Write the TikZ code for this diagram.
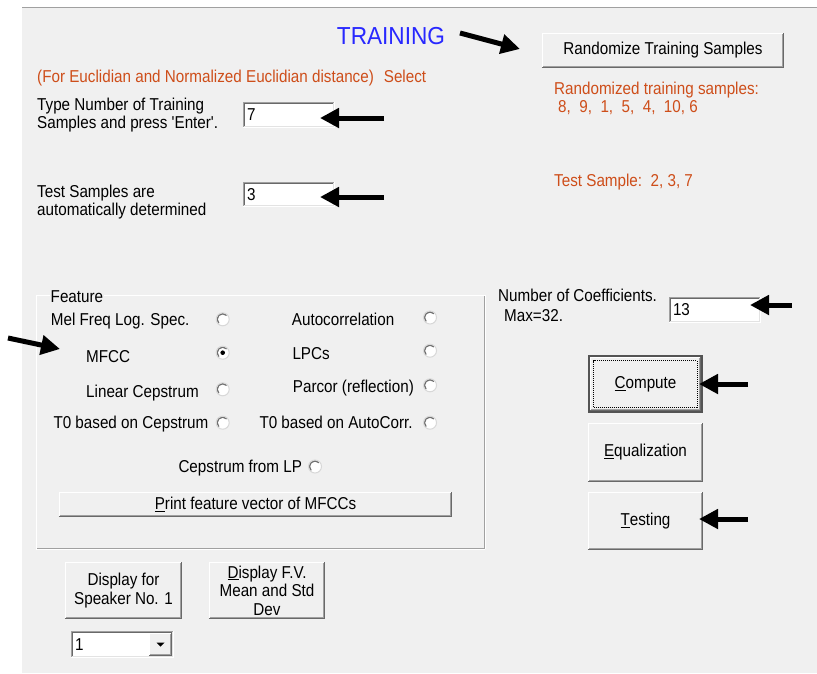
\documentclass[tikz,border=0pt]{standalone}
\usepackage{fontspec}
\newfontfamily\uifont{Liberation Sans}[FakeStretch=0.885]
\newfontfamily\titlefnt{Liberation Sans}[FakeStretch=0.92]
\usetikzlibrary{arrows.meta}
\definecolor{bgc}{HTML}{F0F0F0}
\definecolor{orng}{RGB}{206,78,26}
\definecolor{ttlblue}{RGB}{40,40,255}
\definecolor{dksh}{HTML}{696969}
\definecolor{ltsh}{HTML}{A0A0A0}
\definecolor{lite}{HTML}{E3E3E3}
\definecolor{rdk}{HTML}{707070}
\definecolor{rlt}{HTML}{D8D8D8}
\newcommand\uisz{\uifont\fontsize{17.2}{18.5}\selectfont}
\newcommand\raisedbtn[1]{%
  \draw[white,line width=1.2pt] ([shift={(0.6pt,0.6pt)}]#1.south west) |- ([shift={(-0.6pt,-0.6pt)}]#1.north east);
  \draw[dksh,line width=1pt] ([shift={(0pt,0.5pt)}]#1.south west) -| ([shift={(-0.5pt,0pt)}]#1.north east);
  \draw[ltsh,line width=1pt] ([shift={(1.2pt,1.5pt)}]#1.south west) -| ([shift={(-1.5pt,-1.2pt)}]#1.north east);
}
\newcommand\sunkenbox[1]{%
  \draw[ltsh,line width=1pt] ([shift={(0.5pt,0pt)}]#1.south west) |- ([shift={(0pt,-0.5pt)}]#1.north east);
  \draw[dksh,line width=1pt] ([shift={(1.5pt,1pt)}]#1.south west) |- ([shift={(-1pt,-1.5pt)}]#1.north east);
  \draw[white,line width=1pt] ([shift={(0pt,0.5pt)}]#1.south west) -| ([shift={(-0.5pt,0pt)}]#1.north east);
  \draw[lite,line width=1pt] ([shift={(1pt,1.5pt)}]#1.south west) -| ([shift={(-1.5pt,-1pt)}]#1.north east);
}
\tikzset{
  lbl/.style={font=\uisz, inner sep=0pt, anchor=west, text height=12.3pt, text depth=0pt},
  olbl/.style={lbl, text=orng},
  btn/.style={rectangle, fill=bgc, inner sep=0pt, align=center, font=\uisz},
  tbox/.style={rectangle, fill=white, inner xsep=4pt, inner ysep=0pt, align=left, font=\uisz},
  radio/.style={circle, minimum size=13pt, inner sep=0pt, fill=white, draw=rlt, line width=1pt,
    path picture={\draw[rdk,line width=1.4pt] (path picture bounding box.center) ++(45:5.6pt) arc[start angle=45,end angle=225,radius=5.6pt];}},
  bigarrow/.style={line width=5pt, -{Triangle[length=19pt,width=19pt]}},
}
\begin{document}
\begin{tikzpicture}[x=1pt,y=-1pt]
\useasboundingbox (0,0) rectangle (817,673);
\fill[white] (0,0) rectangle (817,673);
\fill[bgc] (22,7) rectangle (817,673);
\draw[ltsh,line width=1.2pt] (22,7.6) -- (817,7.6);

% title and top texts
\node[font=\titlefnt\fontsize{24.6}{26}\selectfont, text=ttlblue, inner sep=0pt, text height=17.6pt, text depth=0pt] (title) at (391,35.5) {TRAINING};
\node[olbl] (sel) at (37,76.8) {(For Euclidian and Normalized Euclidian distance)\hspace{10pt}Select};
\node[btn, minimum width=242pt, minimum height=35pt] (rand) at (663,50.5) {Randomize Training Samples};
\raisedbtn{rand}
\node[olbl] (randA) at (554,88.5) {Randomized training samples:};
\node[olbl] (randB) at (558,106.7) {8,\ \ 9,\ \ 1,\ \ 5,\ \ 4,\ \ 10,\ 6};
\node[olbl] (testS) at (554,180) {Test Sample:\ \ 2, 3, 7};

\node[lbl] (typeA) at (37,104.5) {Type Number of Training};
\node[lbl] (typeB) at (37,122.8) {Samples and press 'Enter'.};
\node[lbl] (testA) at (37,191.5) {Test Samples are};
\node[lbl] (testB) at (37,209.5) {automatically determined};

\node[tbox, text width=84pt, minimum height=26pt] (tb1) at (289,115) {7};
\sunkenbox{tb1}
\node[tbox, text width=84pt, minimum height=25pt] (tb2) at (289,194.5) {3};
\sunkenbox{tb2}

% Feature group
\node[draw=ltsh, line width=1pt, minimum width=448pt, minimum height=253pt, inner sep=0pt] (grp) at (260,421.5) {};
\draw[white,line width=1pt] ([shift={(1pt,-1pt)}]grp.south west) |- ([shift={(1pt,-1pt)}]grp.north east) -- ++(0pt,-253pt);
\draw[white,line width=1pt] ([shift={(1pt,-1pt)}]grp.south west) -- ++(448pt,0pt);
\node[lbl, fill=bgc, inner xsep=1pt] (feat) at (49.5,296.7) {Feature};

\node[lbl] (melL) at (50.7,319) {Mel Freq Log. Spec.};
\node[radio] (melR) at (222.7,319.3) {};
\node[lbl] (acL) at (291.7,319) {Autocorrelation};
\node[radio] (acR) at (430,317.5) {};
\node[lbl] (mfL) at (86,356.7) {MFCC};
\node[radio] (mfR) at (222.7,352.7) {};
\fill (mfR) circle[radius=2.3pt];
\node[lbl] (lpL) at (292.3,353.5) {LPCs};
\node[radio] (lpR) at (430,350.7) {};
\node[lbl] (lcL) at (86,391.3) {Linear Cepstrum};
\node[radio] (lcR) at (222.7,389.3) {};
\node[lbl] (paL) at (292.7,386) {Parcor (reflection)};
\node[radio] (paR) at (430,385.3) {};
\node[lbl] (t0cL) at (53.3,422.5) {T0 based on Cepstrum};
\node[radio] (t0cR) at (222.7,422.7) {};
\node[lbl] (t0aL) at (259.3,422.5) {T0 based on AutoCorr.};
\node[radio] (t0aR) at (430,422.7) {};
\node[lbl] (cepL) at (178.3,466) {Cepstrum from LP};
\node[radio] (cepR) at (315,466.5) {};
\node[btn, minimum width=393pt, minimum height=25pt] (print) at (255.5,504.5) {\underline{P}rint feature vector of MFCCs};
\raisedbtn{print}

% right column
\node[lbl] (coefA) at (498,295.5) {Number of Coefficients.};
\node[lbl] (coefB) at (504,315) {Max=32.};
\node[tbox, text width=84pt, minimum height=26pt] (tb3) at (715,310) {13};
\sunkenbox{tb3}

\node[btn, minimum width=111pt, minimum height=54pt] (comp) at (645.5,384) {\underline{C}ompute};
\draw[dksh!80!black,line width=2pt] ([shift={(-1pt,-1pt)}]comp.south west) rectangle ([shift={(1pt,1pt)}]comp.north east);
\raisedbtn{comp}
\draw[black,line width=0.8pt,dash pattern=on 1pt off 1pt] ([shift={(4pt,4pt)}]comp.south west) rectangle ([shift={(-4pt,-4pt)}]comp.north east);
\node[btn, minimum width=115pt, minimum height=59pt] (equ) at (645.5,452.5) {\underline{E}qualization};
\raisedbtn{equ}
\node[btn, minimum width=115pt, minimum height=58pt] (tst) at (645.5,521) {\underline{T}esting};
\raisedbtn{tst}

% bottom buttons
\node[btn, minimum width=117pt, minimum height=57pt] (disp) at (123.5,590.5) {Display for\\Speaker No. 1};
\raisedbtn{disp}
\node[btn, minimum width=116pt, minimum height=57pt] (dfv) at (267,590.5) {\underline{D}isplay F.V.\\Mean and Std\\Dev};
\raisedbtn{dfv}
\node[tbox, text width=95pt, minimum height=27pt] (combo) at (122.5,644.5) {1};
\sunkenbox{combo}
\node[btn, minimum width=23pt, minimum height=23pt] (cdrop) at (160.5,644.5) {};
\raisedbtn{cdrop}
\fill ([shift={(-4pt,2pt)}]cdrop.center) -- ++(8pt,0pt) -- ++(-4pt,-4pt) -- cycle;

% arrows
\coordinate (a1s) at (460,33);   \coordinate (a1e) at (520,49);
\coordinate (a2s) at (384,118);  \coordinate (a2e) at (320,118);
\coordinate (a3s) at (384,197);  \coordinate (a3e) at (320,197);
\coordinate (a4s) at (8,338);    \coordinate (a4e) at (60,349);
\coordinate (a5s) at (792,305);  \coordinate (a5e) at (750,305);
\coordinate (a6s) at (748,384);  \coordinate (a6e) at (699,384);
\coordinate (a7s) at (748,519);  \coordinate (a7e) at (699,519);
\draw[bigarrow] (a1s) -- (a1e);
\draw[bigarrow] (a2s) -- (a2e);
\draw[bigarrow] (a3s) -- (a3e);
\draw[bigarrow] (a4s) -- (a4e);
\draw[bigarrow] (a5s) -- (a5e);
\draw[bigarrow] (a6s) -- (a6e);
\draw[bigarrow] (a7s) -- (a7e);
\end{tikzpicture}
\end{document}
